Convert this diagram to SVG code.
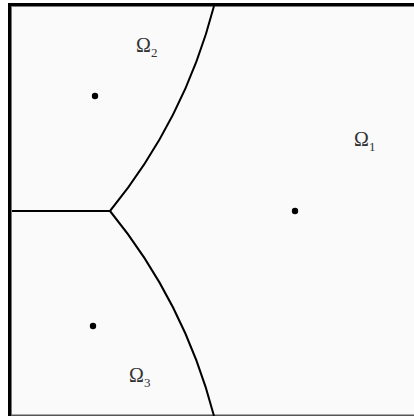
<svg xmlns="http://www.w3.org/2000/svg" width="414" height="416" viewBox="0 0 414 416">
<style>
.bd{stroke:#000;fill:none;stroke-width:2}
.lbl{font-family:"Liberation Serif",serif;font-size:20px;fill:#333}
.sub{font-size:13px}
.pt{fill:#000}
</style>
<rect x="0" y="0" width="414" height="416" fill="#fff"/>
<rect x="11" y="6" width="403" height="408" fill="#fafafa"/>
<rect x="8" y="3" width="406" height="3.5" fill="#000"/>
<rect x="8" y="3" width="3.5" height="413" fill="#000"/>
<rect x="11" y="6" width="1" height="410" fill="#777"/>
<rect x="11" y="414.5" width="403" height="1.5" fill="#555"/>
<g id="connectors">
<path class="bd" d="M110,211 A537,537 0 0,0 214,6"/>
<path class="bd" d="M110,211 A537,537 0 0,1 214,416"/>
<path class="bd" stroke-width="1.6" d="M12,211 H110"/>
</g>
<g id="omega2"><circle class="pt" cx="95" cy="96" r="3.2"/><text class="lbl" x="136" y="52">Ω<tspan class="sub" dy="5">2</tspan></text></g>
<g id="omega1"><circle class="pt" cx="295" cy="211" r="3.2"/><text class="lbl" x="354" y="146">Ω<tspan class="sub" dy="5">1</tspan></text></g>
<g id="omega3"><circle class="pt" cx="93" cy="326" r="3.2"/><text class="lbl" x="129" y="382">Ω<tspan class="sub" dy="5">3</tspan></text></g>
</svg>
